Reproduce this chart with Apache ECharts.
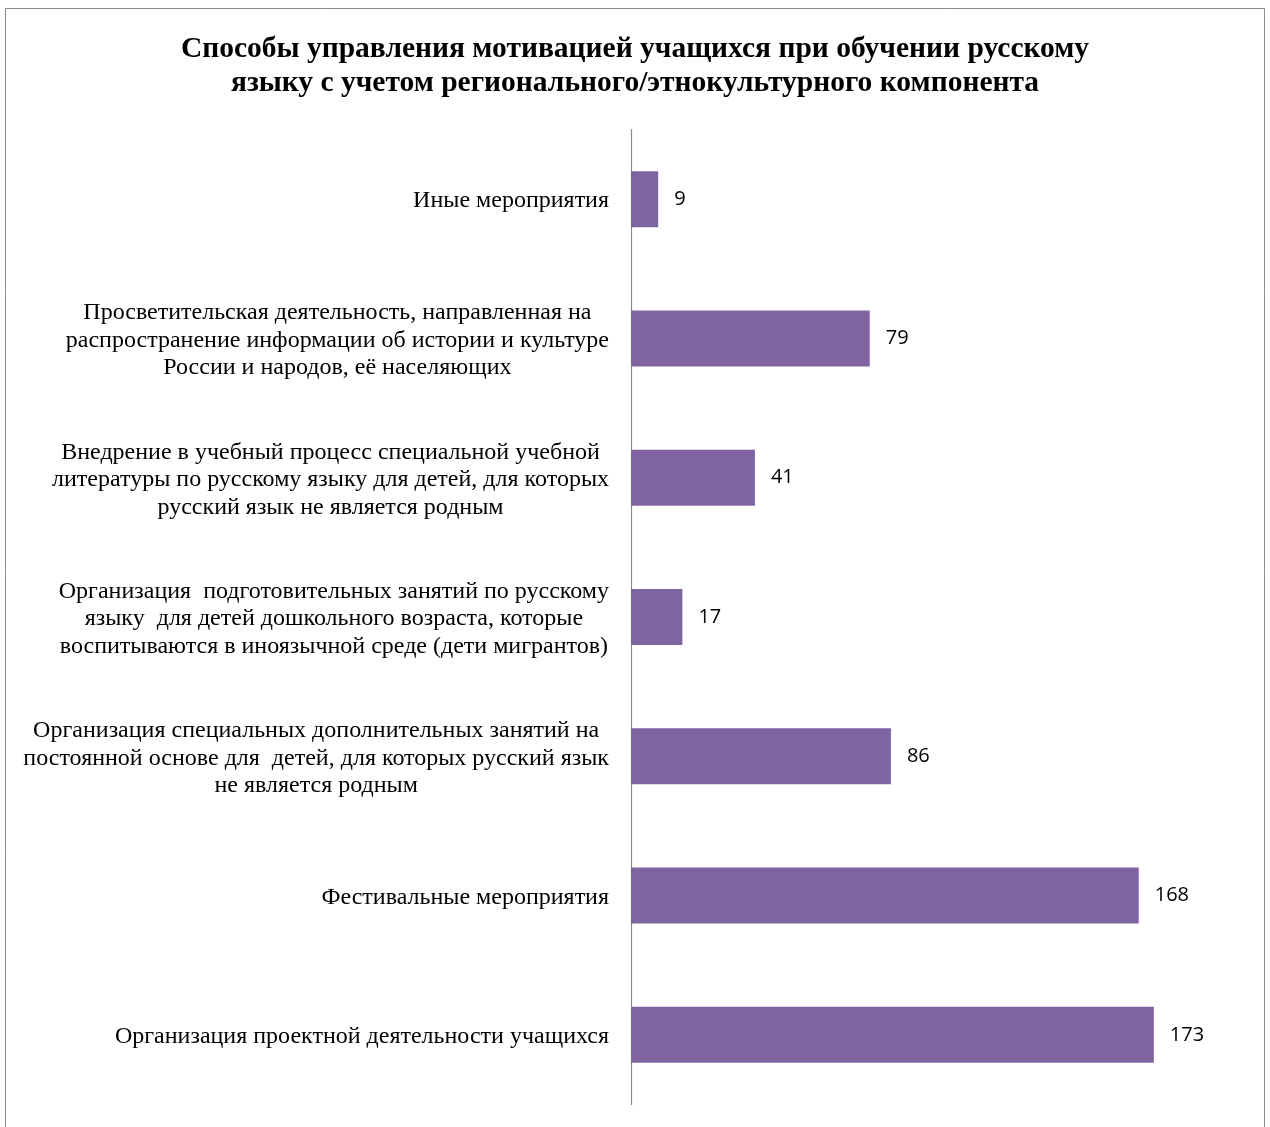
<!DOCTYPE html>
<html>
<head>
<meta charset="utf-8">
<script src="https://cdn.jsdelivr.net/npm/echarts@6/dist/echarts.min.js"></script>
<style>
html,body{margin:0;padding:0;background:#fff;}
#chart{width:1270px;height:1127px;}
</style>
</head>
<body>
<div id="chart"></div>
<script>
const titleText = 'Способы управления мотивацией учащихся при обучении русскому\nязыку с учетом регионального/этнокультурного компонента';
const categories = [
  'Иные мероприятия',
  'Просветительская деятельность, направленная на\nраспространение информации об истории и культуре\nРоссии и народов, её населяющих',
  'Внедрение в учебный процесс специальной учебной\nлитературы по русскому языку для детей, для которых\nрусский язык не является родным',
  'Организация  подготовительных занятий по русскому\nязыку  для детей дошкольного возраста, которые\nвоспитываются в иноязычной среде (дети мигрантов)',
  'Организация специальных дополнительных занятий на\nпостоянной основе для  детей, для которых русский язык\nне является родным',
  'Фестивальные мероприятия',
  'Организация проектной деятельности учащихся'
];
const values = [9, 79, 41, 17, 86, 168, 173];

const chart = echarts.init(document.getElementById('chart'), null, {renderer: 'canvas'});
const serif = '"Liberation Serif", "Times New Roman", serif';
chart.setOption({
  backgroundColor: '#ffffff',
  animation: false,
  title: {
    text: titleText,
    left: 'center',
    top: 27,
    textStyle: {
      fontFamily: serif,
      fontWeight: 'bold',
      fontSize: 29.5,
      lineHeight: 34,
      color: '#000'
    }
  },
  graphic: [{
    type: 'rect',
    shape: {x: 5.5, y: 8.5, width: 1259, height: 1130},
    style: {fill: 'none', stroke: '#8a8a8a', lineWidth: 1},
    silent: true
  }],
  grid: {
    left: 631,
    top: 129.5,
    width: 544,
    height: 975,
    containLabel: false
  },
  xAxis: {
    type: 'value',
    min: 0,
    max: 180,
    show: false,
    splitLine: {show: false}
  },
  yAxis: {
    type: 'category',
    data: categories,
    inverse: true,
    axisLine: {show: true, lineStyle: {color: '#8c8c8c', width: 1.2}},
    axisTick: {show: false},
    axisLabel: {
      margin: 22,
      align: 'right',
      padding: [4, 0, 0, 0],
      formatter: function (v) {
        return v.split('\n').map(function (l) { return '{c|' + l + '}'; }).join('\n');
      },
      rich: {
        c: {
          align: 'center',
          fontFamily: serif,
          fontSize: 24,
          lineHeight: 27.5,
          color: '#000'
        }
      }
    }
  },
  series: [{
    type: 'bar',
    data: values,
    barWidth: 56,
    itemStyle: {color: '#8064A2'},
    label: {
      show: true,
      position: 'right',
      distance: 16,
      fontFamily: '"Open Sans", "Liberation Sans", sans-serif',
      fontSize: 20,
      color: '#000'
    }
  }]
});
</script>
</body>
</html>
